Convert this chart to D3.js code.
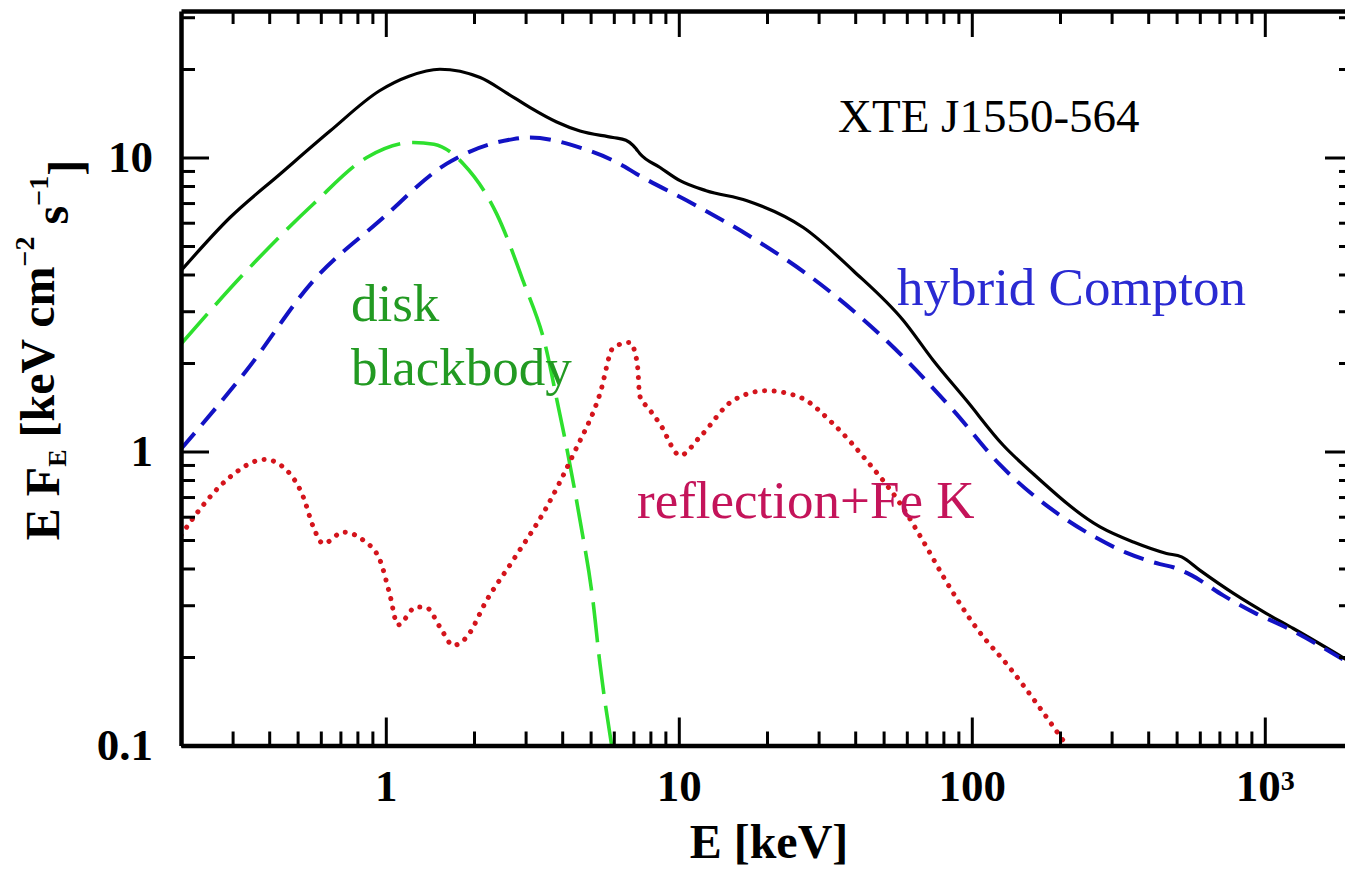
<!DOCTYPE html>
<html>
<head>
<meta charset="utf-8">
<script src="https://cdn.jsdelivr.net/npm/d3@7"></script>
<style>
  html, body { margin: 0; padding: 0; background: #fff; }
  svg { display: block; }
</style>
</head>
<body>
<svg id="chart" width="1345" height="870"></svg>
<script>
// XTE J1550-564 broad-band model spectrum, E·F_E [keV cm^-2 s^-1] against E [keV]

// total model
const totalE = [0.2, 0.294, 0.436, 0.645, 0.955, 1.2, 1.53, 2.1, 2.58, 3.1, 3.83, 4.6, 5.96, 6.6, 6.98, 7.15, 7.37, 8.63, 10.1, 12.4, 17.1, 26.6, 39.4, 58.4, 73.9, 96, 128, 162, 274, 356, 462, 520, 601, 782, 1014, 1251, 2000];
const totalF = [4.12, 6.25, 8.79, 12.3, 16.9, 18.9, 19.96, 18.7, 16.6, 14.8, 13.2, 12.3, 11.7, 11.45, 11.0, 10.7, 10.3, 9.25, 8.34, 7.71, 7.13, 5.78, 4.12, 2.79, 2.04, 1.49, 1.05, 0.84, 0.554, 0.492, 0.450, 0.438, 0.394, 0.329, 0.281, 0.250, 0.19];

// hybrid Comptonization
const comptonE = [0.2, 0.335, 0.566, 0.955, 1.61, 2.72, 3.1, 4.6, 6.3, 7.18, 11.2, 17.2, 30.3, 51.2, 86.5, 125, 208, 263, 338, 439, 487, 563, 721, 927, 1173, 2000];
const comptonF = [1.02, 1.89, 3.81, 6.10, 9.51, 11.55, 11.7, 10.8, 9.5, 8.79, 6.95, 5.45, 3.72, 2.38, 1.38, 0.90, 0.591, 0.512, 0.452, 0.414, 0.404, 0.379, 0.324, 0.282, 0.253, 0.187];

// multicolour disk blackbody
const diskE = [0.2, 0.335, 0.566, 0.861, 1.24, 1.46, 1.84, 2.39, 2.94, 3.54, 3.84, 4.14, 4.6, 5.09, 5.38, 5.9];
const diskF = [2.32, 4.12, 6.95, 10.0, 11.25, 11.1, 9.51, 6.43, 3.81, 2.20, 1.49, 1.035, 0.584, 0.312, 0.19, 0.1];

// Compton reflection with Fe K line
const reflE = [0.2, 0.226, 0.294, 0.387, 0.459, 0.523, 0.566, 0.612, 0.716, 0.838, 0.955, 1.03, 1.10, 1.27, 1.38, 1.53, 1.70, 1.89, 2.21, 2.72, 3.54, 4.37, 5.38, 5.98, 6.82, 7.1, 7.25, 7.35, 7.9, 8.63, 10.1, 11.8, 15.3, 19.9, 25.9, 33.7, 43.8, 56.9, 70.1, 80, 104, 134, 205];
const reflF = [0.519, 0.615, 0.819, 0.94, 0.863, 0.70, 0.553, 0.486, 0.532, 0.499, 0.427, 0.329, 0.257, 0.296, 0.294, 0.253, 0.219, 0.234, 0.312, 0.427, 0.647, 0.98, 1.57, 2.26, 2.35, 2.15, 1.9, 1.55, 1.40, 1.24, 0.97, 1.12, 1.49, 1.61, 1.53, 1.24, 0.93, 0.666, 0.473, 0.375, 0.25, 0.185, 0.104];

// axis ticks
const xMajorTicks = [1, 10, 100, 1000];
const xMajorLabels = ["1", "10", "100", "10|3"];
const xMinorTicks = [0.3, 0.4, 0.5, 0.6, 0.7, 0.8, 0.9, 2, 3, 4, 5, 6, 7, 8, 9, 20, 30, 40, 50, 60, 70, 80, 90, 200, 300, 400, 500, 600, 700, 800, 900];
const yMajorTicks = [0.1, 1, 10];
const yMajorLabels = ["0.1", "1", "10"];
const yMinorTicks = [0.2, 0.3, 0.4, 0.5, 0.6, 0.7, 0.8, 0.9, 2, 3, 4, 5, 6, 7, 8, 9, 20, 30];

const svg = d3.select("#chart");
const frame = { left: 181, right: 1353, top: 11, bottom: 745.5 };

const x = d3.scaleLog().domain([0.2, 2000]).range([frame.left, frame.right]);
const y = d3.scaleLog().domain([0.1, 31.5]).range([frame.bottom, frame.top]);

const tickFont = "'Liberation Serif', 'Times New Roman', serif";
const majorLen = 28, minorLen = 14;

svg.append("rect").attr("width", 1345).attr("height", 870).attr("fill", "#fff");

svg.append("clipPath").attr("id", "plotClip")
  .append("rect")
  .attr("x", frame.left).attr("y", frame.top)
  .attr("width", frame.right - frame.left).attr("height", frame.bottom - frame.top);

// ---- curves ----
const line = d3.line()
  .x(d => x(d[0]))
  .y(d => y(d[1]))
  .curve(d3.curveMonotoneX);

const curves = svg.append("g").attr("clip-path", "url(#plotClip)").attr("fill", "none");

curves.append("path")
  .datum(d3.zip(totalE, totalF))
  .attr("d", line)
  .attr("stroke", "#000")
  .attr("stroke-width", 3.2)
  .attr("stroke-linejoin", "round");

curves.append("path")
  .datum(d3.zip(diskE, diskF))
  .attr("d", line)
  .attr("stroke", "#2ee02e")
  .attr("stroke-width", 3.6)
  .attr("stroke-dasharray", "40 12");

curves.append("path")
  .datum(d3.zip(reflE, reflF))
  .attr("d", line)
  .attr("stroke", "#d4141c")
  .attr("stroke-width", 5)
  .attr("stroke-linecap", "round")
  .attr("stroke-dasharray", "0.1 9.5");

curves.append("path")
  .datum(d3.zip(comptonE, comptonF))
  .attr("d", line)
  .attr("stroke", "#1212c4")
  .attr("stroke-width", 4)
  .attr("stroke-dasharray", "21 11");

// ---- axes ----
function styleAxis(g, width) {
  g.select(".domain").attr("stroke", "#000").attr("stroke-width", width);
  g.selectAll(".tick line").attr("stroke", "#000").attr("stroke-width", 3);
  g.selectAll(".tick text")
    .attr("fill", "#000")
    .style("font-family", tickFont)
    .style("font-weight", "bold")
    .style("font-size", "45px");
}

// bottom
const gBottom = svg.append("g").attr("transform", `translate(0,${frame.bottom})`)
  .call(d3.axisBottom(x).tickValues(xMajorTicks).tickSizeInner(-majorLen).tickSizeOuter(0).tickPadding(24)
    .tickFormat((d, i) => xMajorLabels[i]));
styleAxis(gBottom, 4.5);
gBottom.selectAll(".tick text").each(function(d, i) {
  const parts = xMajorLabels[i].split("|");
  const t = d3.select(this).text(parts[0]);
  if (parts.length > 1) {
    t.append("tspan").attr("dy", "-0.42em").style("font-size", "28px").text(parts[1]);
  }
});
const gBottomMinor = svg.append("g").attr("transform", `translate(0,${frame.bottom})`)
  .call(d3.axisBottom(x).tickValues(xMinorTicks).tickSize(-minorLen).tickFormat(""));
gBottomMinor.select(".domain").remove();
styleAxis(gBottomMinor, 0);

// top
const gTop = svg.append("g").attr("transform", `translate(0,${frame.top})`)
  .call(d3.axisTop(x).tickValues(xMajorTicks).tickSizeInner(-majorLen + 2).tickSizeOuter(0).tickFormat(""));
styleAxis(gTop, 4.5);
const gTopMinor = svg.append("g").attr("transform", `translate(0,${frame.top})`)
  .call(d3.axisTop(x).tickValues(xMinorTicks).tickSize(-minorLen + 1).tickFormat(""));
gTopMinor.select(".domain").remove();
styleAxis(gTopMinor, 0);

// left
const gLeft = svg.append("g").attr("transform", `translate(${frame.left},0)`)
  .call(d3.axisLeft(y).tickValues(yMajorTicks).tickSizeInner(-majorLen).tickSizeOuter(0).tickPadding(28)
    .tickFormat((d, i) => yMajorLabels[i]));
styleAxis(gLeft, 4.5);
const gLeftMinor = svg.append("g").attr("transform", `translate(${frame.left},0)`)
  .call(d3.axisLeft(y).tickValues(yMinorTicks).tickSize(-minorLen).tickFormat(""));
gLeftMinor.select(".domain").remove();
styleAxis(gLeftMinor, 0);

// right
const gRight = svg.append("g").attr("transform", `translate(${frame.right},0)`)
  .call(d3.axisRight(y).tickValues(yMajorTicks).tickSizeInner(-majorLen).tickSizeOuter(0).tickFormat(""));
styleAxis(gRight, 4.5);
const gRightMinor = svg.append("g").attr("transform", `translate(${frame.right},0)`)
  .call(d3.axisRight(y).tickValues(yMinorTicks).tickSize(-minorLen).tickFormat(""));
gRightMinor.select(".domain").remove();
styleAxis(gRightMinor, 0);

// ---- axis titles ----
const titleFont = "'Liberation Serif', 'Times New Roman', serif";

svg.append("text")
  .attr("x", 769).attr("y", 858)
  .attr("text-anchor", "middle")
  .style("font-family", titleFont).style("font-weight", "bold").style("font-size", "48px")
  .text("E [keV]");

const yTitle = svg.append("text")
  .attr("transform", "translate(59,350) rotate(-90)")
  .attr("text-anchor", "middle")
  .style("font-family", titleFont).style("font-weight", "bold").style("font-size", "48px");
yTitle.append("tspan").text("E F");
yTitle.append("tspan").attr("dy", "0.25em").style("font-size", "26px").text("E");
yTitle.append("tspan").attr("dy", "-0.25em").text(" [keV cm");
yTitle.append("tspan").attr("dy", "-0.7em").style("font-size", "28px").text("−2");
yTitle.append("tspan").attr("dy", "0.7em").text(" s");
yTitle.append("tspan").attr("dy", "-0.7em").style("font-size", "28px").text("−1");
yTitle.append("tspan").attr("dy", "0.7em").text("]");

// ---- annotations ----
const noteFont = "'Liberation Serif', 'Times New Roman', serif";
function note(txt, px, py, size, color) {
  svg.append("text")
    .attr("x", px).attr("y", py)
    .style("font-family", noteFont).style("font-size", size + "px")
    .attr("fill", color)
    .text(txt);
}
note("XTE J1550-564", 838, 132, 47, "#000");
note("hybrid Compton", 897, 305, 53, "#2a2ad2");
note("disk", 351, 321, 53, "#229a22");
note("blackbody", 351, 385, 53, "#229a22");
note("reflection+Fe K", 637, 518, 53, "#c4145a");
</script>
</body>
</html>
